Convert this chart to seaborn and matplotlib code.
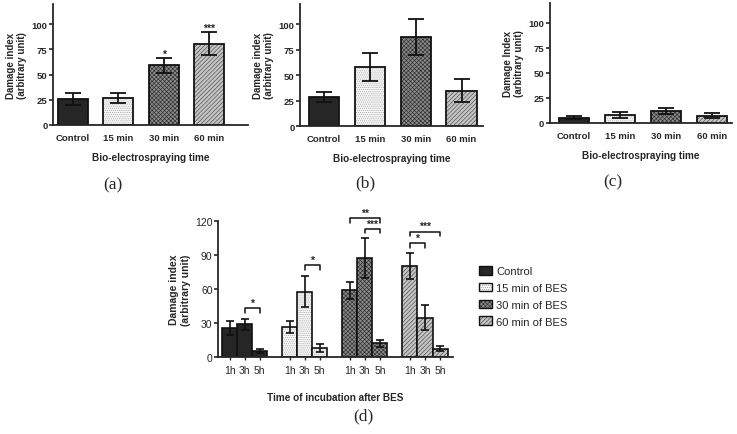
import numpy as np
import pandas as pd
import seaborn as sns
import matplotlib.pyplot as plt
import matplotlib.colors as mcolors
from matplotlib.patches import Patch

# ---- data ----
times = ["Control", "15 min", "30 min", "60 min"]
hours = ["1h", "3h", "5h"]

# (a) 1 h after BES, (b) 3 h, (c) 5 h  -> mean and error
a_mean = [25.5, 26.5, 59.0, 80.5]
a_err = [6.0, 5.0, 7.5, 11.5]
b_mean = [28.8, 57.7, 87.2, 34.7]
b_err = [5.0, 13.5, 17.5, 11.3]
c_mean = [5.3, 8.0, 12.0, 7.3]
c_err = [1.5, 3.2, 3.0, 2.4]

a_stars = ["", "", "*", "***"]

# (d) brackets: group, from hour, to hour, height, label
d_groups = ["Control", "15 min of BES", "30 min of BES", "60 min of BES"]
br_group = [0, 1, 2, 2, 3, 3]
br_from = [1, 1, 0, 1, 0, 0]
br_to = [2, 2, 2, 2, 2, 1]
br_y = [43, 81, 122.5, 113, 110.5, 100.5]
br_text = ["*", "*", "**", "***", "***", "*"]

# fill styles per BES time
FACE = ["#262626", "#f6f6f6", "#8a8a8a", "#c4c4c4"]
HATCH = [None, "........", "xxxxxxxx", "////////"]
HATCH_COL = ["#262626", "#a8a8a8", "#2e2e2e", "#4a4a4a"]

sns.set_style("ticks")
plt.rcParams["font.family"] = ["Liberation Sans", "DejaVu Sans"]
plt.rcParams["hatch.linewidth"] = 0.45
plt.rcParams["axes.linewidth"] = 1.3


def style_patch(p, k, lw=1.3):
    p.set_facecolor(FACE[k])
    p.set_edgecolor("#111111")
    p.set_linewidth(lw)
    if HATCH[k]:
        p.set_hatch(HATCH[k])
        if hasattr(p, "set_hatchcolor"):
            p.set_hatchcolor(HATCH_COL[k])
        else:
            p._hatch_color = mcolors.to_rgba(HATCH_COL[k])


def panel(ax, means, errs, ylabel, stars=None):
    df = pd.DataFrame({"time": times, "value": means})
    sns.barplot(data=df, x="time", y="value", order=times, errorbar=None,
                width=0.66, ax=ax)
    for k, p in enumerate(ax.patches):
        style_patch(p, k)
    xs = [p.get_x() + p.get_width() / 2 for p in ax.patches]
    ax.errorbar(xs, means, yerr=errs, fmt="none", ecolor="#111111",
                elinewidth=1.3, capsize=5.5, capthick=1.3)
    if stars:
        for x, m, e, s in zip(xs, means, errs, stars):
            if s:
                ax.text(x, m + e + 4, s, ha="center", va="center",
                        fontsize=7.5, fontweight="bold")
    ax.set_ylim(0, 120)
    ax.set_yticks([0, 25, 50, 75, 100])
    ax.set_xlim(-0.5, 3.45)
    ax.set_xlabel("Bio-electrospraying time", fontsize=7.2,
                  fontweight="bold", labelpad=7)
    ax.set_ylabel(ylabel, fontsize=7, fontweight="bold", labelpad=3)
    ax.tick_params(axis="x", length=0, labelsize=6.8, pad=6)
    ax.tick_params(axis="y", length=3, width=1.2, labelsize=6.8, pad=1)
    for lab in ax.get_xticklabels() + ax.get_yticklabels():
        lab.set_fontweight("bold")
    sns.despine(ax=ax)


fig = plt.figure(figsize=(7.37, 4.35), dpi=100)

ax_a = fig.add_axes([0.072, 0.711, 0.265, 0.277])
ax_b = fig.add_axes([0.407, 0.708, 0.248, 0.281])
ax_c = fig.add_axes([0.746, 0.715, 0.247, 0.276])
ax_d = fig.add_axes([0.296, 0.177, 0.319, 0.3126])

panel(ax_a, a_mean, a_err, "Damage index\n(arbitrary unit)", a_stars)
ax_a.set_xlim(-0.44, 3.86)
panel(ax_b, b_mean, b_err, "Damage index\n(arbitrary unit)")
ax_b.set_xlim(-0.52, 3.46)
panel(ax_c, c_mean, c_err, "Damage Index\n(arbitrary unit)")
ax_c.set_xlim(-0.52, 3.43)

# ---- panel (d) ----
rows = []
for g, vals in enumerate(zip(a_mean, b_mean, c_mean)):
    for h, v in enumerate(vals):
        rows.append({"group": d_groups[g], "hour": hours[h], "value": v})
dd = pd.DataFrame(rows)
sns.barplot(data=dd, x="group", y="value", hue="hour", order=d_groups,
            hue_order=hours, errorbar=None, width=0.75, legend=False, ax=ax_d)

d_err = [a_err, b_err, c_err]
centers = {}
for h in range(3):
    for g in range(4):
        p = ax_d.patches[h * 4 + g]
        style_patch(p, g, lw=1.2)
        cx = p.get_x() + p.get_width() / 2
        centers[(g, h)] = cx
        ax_d.errorbar(cx, p.get_height(), yerr=d_err[h][g], fmt="none",
                      ecolor="#111111", elinewidth=1.2, capsize=3, capthick=1.2)

tick_x = [centers[(g, h)] for g in range(4) for h in range(3)]
ax_d.set_xticks(tick_x)
ax_d.set_xticklabels(hours * 4)
ax_d.set_xlim(-0.44, 3.47)
ax_d.set_ylim(0, 120)
ax_d.set_yticks([0, 30, 60, 90, 120])
ax_d.tick_params(axis="x", length=2, width=1, labelsize=7.5, pad=4)
ax_d.tick_params(axis="y", length=3, width=1.2, labelsize=7.5, pad=1)
ax_d.set_xlabel("Time of incubation after BES", fontsize=7.2,
                fontweight="bold", labelpad=12)
ax_d.set_ylabel("Damage index\n(arbitrary unit)", fontsize=7.5,
                fontweight="bold", labelpad=3)
sns.despine(ax=ax_d)

for g, h1, h2, y, s in zip(br_group, br_from, br_to, br_y, br_text):
    x1 = centers[(g, h1)]
    x2 = centers[(g, h2)]
    ax_d.plot([x1, x1, x2, x2], [y - 4, y, y, y - 4], color="#111111",
              lw=1.1, clip_on=False)
    ax_d.text((x1 + x2) / 2, y + 0.5, s, ha="center", va="bottom",
              fontsize=7.5, fontweight="bold")

handles = [Patch(facecolor=FACE[k], edgecolor="#111111", hatch=HATCH[k],
                 linewidth=1.0) for k in range(4)]
for k, hnd in enumerate(handles):
    if HATCH[k]:
        if hasattr(hnd, "set_hatchcolor"):
            hnd.set_hatchcolor(HATCH_COL[k])
        else:
            hnd._hatch_color = mcolors.to_rgba(HATCH_COL[k])
fig.legend(handles, d_groups, loc="upper left", bbox_to_anchor=(0.636, 0.41),
           frameon=False, fontsize=8, handlelength=1.2, handleheight=0.85,
           handletextpad=0.35, labelspacing=0.6)

# panel letters
serif = ["Liberation Serif", "DejaVu Serif"]
fig.text(0.153, 0.573, "(a)", family=serif, fontsize=12.5, ha="center", va="center")
fig.text(0.495, 0.578, "(b)", family=serif, fontsize=12.5, ha="center", va="center")
fig.text(0.832, 0.580, "(c)", family=serif, fontsize=12.5, ha="center", va="center")
fig.text(0.493, 0.042, "(d)", family=serif, fontsize=12.5, ha="center", va="center")

fig.savefig("out.png", dpi=100)
